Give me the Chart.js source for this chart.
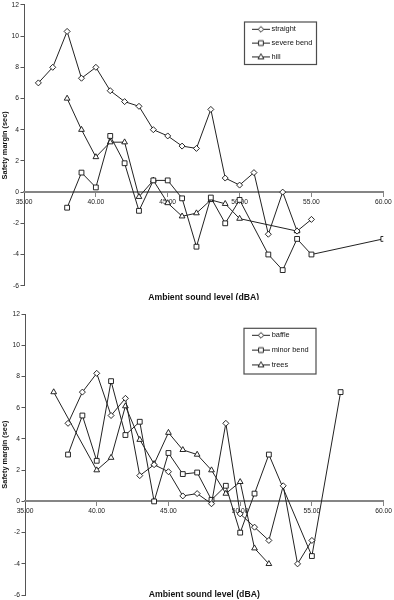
<!DOCTYPE html>
<html><head><meta charset="utf-8">
<script src="https://cdn.jsdelivr.net/npm/chart.js@4.4.1/dist/chart.umd.min.js"></script>
<style>
html,body{margin:0;padding:0;background:#fff;}
#wrap{position:relative;width:394px;height:600px;}
canvas{position:absolute;left:0;}
</style></head><body>
<div id="wrap">
<canvas id="c1" width="394" height="300" style="top:0"></canvas>
<canvas id="c2" width="394" height="300" style="top:300px"></canvas>
</div>
<script>
// ---------- data ----------
const xMin = 35, xMax = 60, xStep = 5;
const yMin = -6, yMax = 12, yStep = 2;
const xAxisTitle = 'Ambient sound level (dBA)';
const yAxisTitle = 'Safety margin (sec)';

// top panel
const straightX = [36, 37, 38, 39, 40, 41, 42, 43, 44, 45, 46, 47, 48, 49, 50, 51, 52, 53, 54, 55];
const straightY = [7.0, 8.0, 10.3, 7.3, 8.0, 6.5, 5.8, 5.5, 4.0, 3.6, 2.95, 2.8, 5.3, 0.9, 0.45, 1.25, -2.7, 0.0, -2.5, -1.75];
const severeX = [38, 39, 40, 41, 42, 43, 44, 45, 46, 47, 48, 49, 50, 52, 53, 54, 55, 60];
const severeY = [-1.0, 1.25, 0.3, 3.6, 1.85, -1.2, 0.75, 0.75, -0.4, -3.5, -0.35, -2.0, -0.5, -4.0, -5.0, -3.0, -4.0, -3.0];
const hillX = [38, 39, 40, 41, 42, 43, 44, 45, 46, 47, 48, 49, 50, 54];
const hillY = [6.0, 4.0, 2.25, 3.2, 3.2, -0.3, 0.75, -0.7, -1.55, -1.35, -0.5, -0.75, -1.7, -2.5];

// bottom panel
const baffleX = [38, 39, 40, 41, 42, 43, 44, 45, 46, 47, 48, 49, 50, 51, 52, 53, 54, 55];
const baffleY = [5.0, 7.0, 8.2, 5.5, 6.6, 1.65, 2.35, 1.9, 0.35, 0.5, -0.15, 5.0, -0.8, -1.65, -2.5, 1.0, -4.0, -2.5];
const minorX = [38, 39, 40, 41, 42, 43, 44, 45, 46, 47, 48, 49, 50, 51, 52, 55, 57];
const minorY = [3.0, 5.5, 2.6, 7.7, 4.25, 5.1, 0.0, 3.1, 1.75, 1.85, 0.1, 1.0, -2.0, 0.5, 3.0, -3.5, 7.0];
const treesX = [37, 40, 41, 42, 43, 44, 45, 46, 47, 48, 49, 50, 51, 52];
const treesY = [7.0, 2.0, 2.8, 6.1, 3.95, 2.4, 4.4, 3.3, 3.0, 2.0, 0.5, 1.25, -3.0, -4.0];

// ---------- rendering ----------
const FONT = "'Liberation Sans', Arial, Helvetica, sans-serif";
Chart.defaults.font.family = FONT;
Chart.defaults.color = '#1a1a1a';

const pts = (xs, ys) => xs.map((x, i) => ({x: x, y: ys[i]}));

function icon(style) {
  const c = document.createElement('canvas');
  c.width = 18; c.height = 9;
  const g = c.getContext('2d');
  g.strokeStyle = '#222'; g.lineWidth = 1;
  g.beginPath(); g.moveTo(0, 4.5); g.lineTo(18, 4.5); g.stroke();
  g.fillStyle = '#fff'; g.strokeStyle = '#111'; g.lineWidth = 0.9;
  g.beginPath();
  const cx = 9, cy = 4.5;
  if (style === 'rectRot') { g.moveTo(cx, cy - 2.8); g.lineTo(cx + 2.8, cy); g.lineTo(cx, cy + 2.8); g.lineTo(cx - 2.8, cy); }
  else if (style === 'rect') { g.rect(cx - 2.4, cy - 2.4, 4.8, 4.8); }
  else { g.moveTo(cx, cy - 3.2); g.lineTo(cx + 2.9, cy + 2); g.lineTo(cx - 2.9, cy + 2); }
  g.closePath(); g.fill(); g.stroke();
  return c;
}

const legendBox = {
  id: 'legendBox',
  beforeDraw(chart, args, o) {
    const ctx = chart.ctx;
    ctx.save();
    ctx.fillStyle = '#fff'; ctx.strokeStyle = '#4d4d4d'; ctx.lineWidth = 1.2;
    ctx.fillRect(o.x, o.y, o.w, o.h);
    ctx.strokeRect(o.x, o.y, o.w, o.h);
    ctx.restore();
    const lg = chart.legend;
    if (lg) {
      const w = lg.width, h = lg.height;
      lg.left = o.x + o.dx; lg.top = o.y + o.dy;
      lg.right = lg.left + w; lg.bottom = lg.top + h;
    }
  }
};

const xTitle = {
  id: 'xTitle',
  afterDraw(chart, args, o) {
    const a = chart.chartArea, ctx = chart.ctx;
    ctx.save();
    ctx.font = 'bold ' + o.size + 'px ' + FONT;
    ctx.fillStyle = '#111'; ctx.textAlign = 'center'; ctx.textBaseline = 'middle';
    ctx.fillText(o.text, (a.left + a.right) / 2, a.bottom + o.offset);
    ctx.restore();
  }
};

function ds(label, xs, ys, style, r) {
  return {
    label: label, data: pts(xs, ys), showLine: true, pointStyle: style, pointRadius: r,
    borderColor: '#222', borderWidth: 1, pointBackgroundColor: '#fff', pointBorderColor: '#111',
    pointBorderWidth: 0.9, fill: false, tension: 0
  };
}

function makeChart(id, datasets, cfg) {
  return new Chart(document.getElementById(id), {
    type: 'scatter',
    data: {datasets: datasets},
    plugins: [legendBox, xTitle],
    options: {
      responsive: false, animation: false, events: [], devicePixelRatio: 1,
      layout: {padding: cfg.padding},
      scales: {
        y: {
          type: 'linear', position: 'left', min: yMin, max: yMax,
          ticks: {stepSize: yStep, font: {size: 6.7}, color: '#1a1a1a', padding: 1.5},
          grid: {drawOnChartArea: false, drawTicks: true, tickLength: 3.5, color: '#555'},
          border: {display: true, color: '#555', width: 1},
          title: {display: true, text: yAxisTitle, color: '#111', font: {size: 7.4, weight: 'bold'}, padding: {top: 0.6, bottom: 0}},
          afterFit: s => { s.width = cfg.yWidth; s.paddingTop = 0; s.paddingBottom = 0; }
        },
        x: {
          type: 'linear', position: {y: 0}, min: xMin, max: xMax,
          ticks: {stepSize: xStep, autoSkip: false, maxRotation: 0, font: {size: 6.7}, color: '#1a1a1a', padding: 2,
                  callback: v => Number(v).toFixed(2)},
          grid: {drawOnChartArea: false, drawTicks: true, tickLength: 4, color: '#858585'},
          border: {display: true, color: '#858585', width: 2}
        }
      },
      plugins: {
        tooltip: {enabled: false},
        legend: {
          position: 'chartArea', align: 'start',
          labels: {
            usePointStyle: true, pointStyleWidth: 14, boxHeight: 7.4, padding: cfg.legendPad,
            font: {size: 7.4}, color: '#111',
            generateLabels: ch => ch.data.datasets.map((d, i) => ({
              text: d.label, pointStyle: icon(d.pointStyle), datasetIndex: i,
              lineWidth: 0, fillStyle: '#fff', strokeStyle: '#fff', hidden: false, fontColor: '#111'
            }))
          }
        },
        legendBox: cfg.legendBox,
        xTitle: {text: xAxisTitle, size: 8.7, offset: cfg.titleOffset}
      }
    }
  });
}

makeChart('c1', [
  ds('straight', straightX, straightY, 'rectRot', 3),
  ds('severe bend', severeX, severeY, 'rect', 3.4),
  ds('hill', hillX, hillY, 'triangle', 3.3)
], {
  padding: {top: 3.5, bottom: 14.3, left: 0, right: 10.7},
  yWidth: 24,
  legendPad: 6.4,
  legendBox: {x: 244.5, y: 22, w: 72, h: 42.5, dx: 3, dy: -2.8},
  titleOffset: 11.8
});

makeChart('c2', [
  ds('baffle', baffleX, baffleY, 'rectRot', 3),
  ds('minor bend', minorX, minorY, 'rect', 3.4),
  ds('trees', treesX, treesY, 'triangle', 3.3)
], {
  padding: {top: 14, bottom: 4.5, left: 0, right: 9},
  yWidth: 25,
  legendPad: 7.4,
  legendBox: {x: 244, y: 28.3, w: 72, h: 45.7, dx: 2.6, dy: -4.1},
  titleOffset: -0.5
});
</script>
</body></html>
